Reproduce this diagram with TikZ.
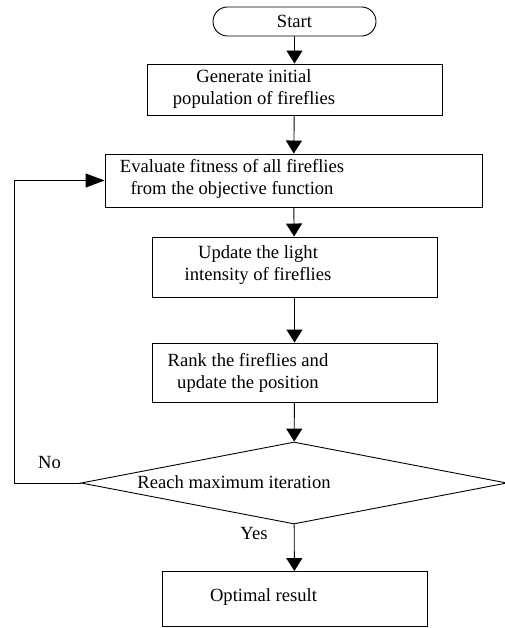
\documentclass[tikz,border=0pt]{standalone}
\usepackage{fontspec}
\setmainfont{Liberation Serif}
\usetikzlibrary{arrows.meta,shapes.geometric,shapes.misc}
\tikzset{
  term/.style={draw, rounded rectangle, inner sep=0pt, minimum width=163pt, minimum height=29pt},
  box/.style={draw, rectangle, inner sep=0pt},
  decision/.style={draw, diamond, inner sep=0pt, minimum width=426pt, minimum height=82pt},
  txt/.style={align=center, inner sep=0pt},
  flow/.style={-{Triangle[length=13pt,width=16pt]}},
}
\begin{document}
\begin{tikzpicture}[x=1pt, y=-1pt, line width=0.9pt, font=\fontsize{18.6}{22}\selectfont]
  \useasboundingbox (0,0) rectangle (505,628);
  \draw
    (294.5,21.5) node[term] (start){Start}
    (294.5,89.5) node[box, minimum width=295pt, minimum height=51pt] (gen){}
    (293.5,180.5) node[box, minimum width=377pt, minimum height=53pt] (eval){}
    (294.5,267) node[box, minimum width=285pt, minimum height=60pt] (upd){}
    (294.5,372.5) node[box, minimum width=285pt, minimum height=59pt] (rank){}
    (294,483) node[decision] (reach){}
    (294.5,599) node[box, minimum width=265pt, minimum height=55pt] (opt){};
  \node[txt] (gen-t) at (254,89) {Generate initial\\population of fireflies};
  \node[txt] (eval-t) at (232,179) {Evaluate fitness of all fireflies\\from the objective function};
  \node[txt] (upd-t) at (258,265) {Update the light\\intensity of fireflies};
  \node[txt] (rank-t) at (248,372.5) {Rank the fireflies and\\update the position};
  \node[txt] (reach-t) at (234,482) {Reach maximum iteration};
  \node[txt] (opt-t) at (263.5,597) {Optimal result};
  \node[txt] (no) at (49.5,462) {No};
  \node[txt] (yes) at (254,533) {Yes};
  \coordinate (loop) at (14,483);
  \begin{scope}[flow]
    \draw (start) to (gen);
    \draw (gen) to (eval);
    \draw (eval) to (upd);
    \draw (upd) to (rank);
    \draw (rank) to (reach);
    \draw (reach) to (opt);
    \draw[-{Triangle[length=19pt,width=14pt]}] (reach.west) -- (loop) |- (eval.west);
  \end{scope}
\end{tikzpicture}
\end{document}
